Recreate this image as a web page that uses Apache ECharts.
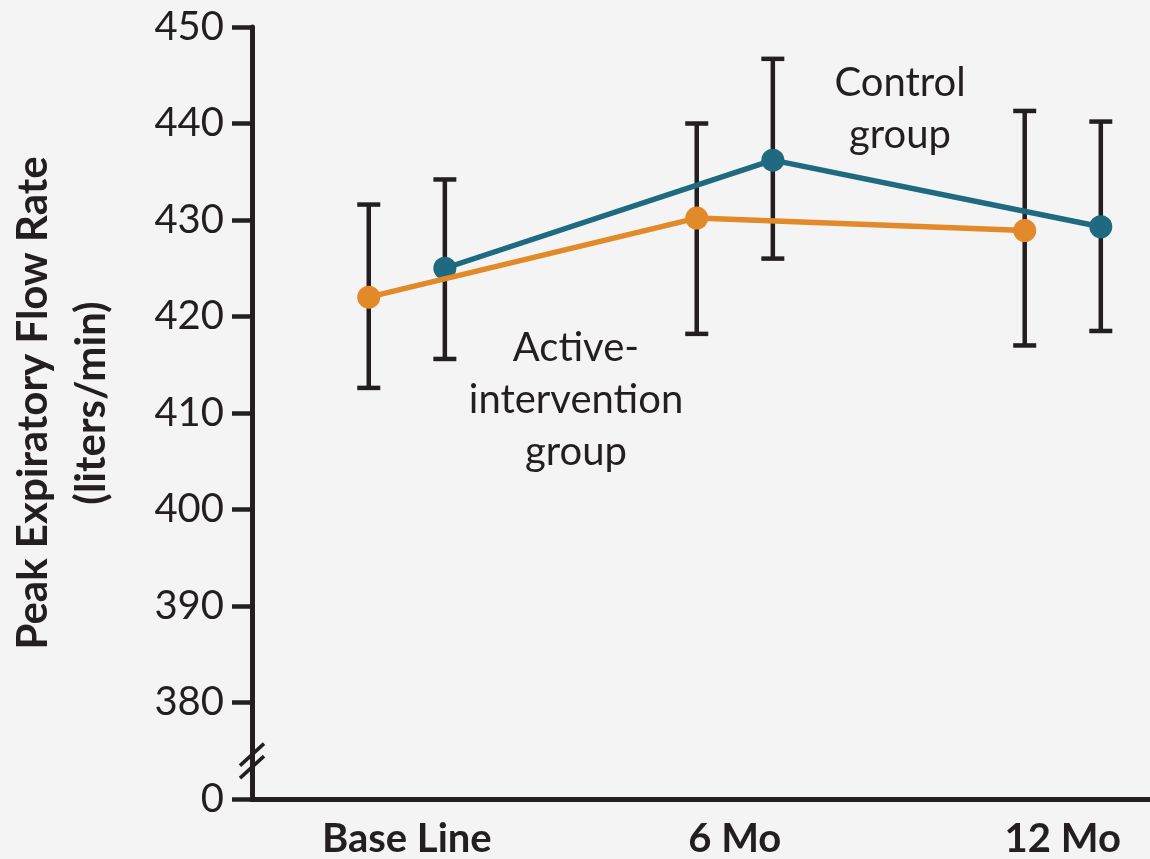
<!DOCTYPE html>
<html>
<head>
<meta charset="utf-8">
<style>
  html, body { margin: 0; padding: 0; background: #f4f4f4; }
  #chart { width: 1150px; height: 859px; }
</style>
<script src="https://cdn.jsdelivr.net/npm/echarts@6/dist/echarts.min.js"></script>
</head>
<body>
<div id="chart"></div>
<script>
// ---- data ----
const categories = ['Base Line', '6 Mo', '12 Mo'];
const activeMean = [422.0, 430.2, 428.9];
const activeLow  = [412.6, 418.2, 417.0];
const activeHigh = [431.6, 440.0, 441.3];
const controlMean = [425.0, 436.2, 429.3];
const controlLow  = [415.6, 426.0, 418.5];
const controlHigh = [434.2, 446.7, 440.2];
const yTickValues = [370, 380, 390, 400, 410, 420, 430, 440, 450];
const yTickLabels = ['0', '380', '390', '400', '410', '420', '430', '440', '450'];
const yAxisTitle = 'Peak Expiratory Flow Rate\n(liters/min)';
const activeLabel = 'Active-\nintervention\ngroup';
const controlLabel = 'Control\ngroup';

// ---- layout / style ----
const INK = '#231f20';
const TEAL = '#1f6a80';
const ORANGE = '#e2892a';
const OFFSET = 0.116;
const FONT = 'Lato';

const activePts = activeMean.map((v, i) => [i - OFFSET, v]);
const controlPts = controlMean.map((v, i) => [i + OFFSET, v]);
const activeErr = activeMean.map((v, i) => [i - OFFSET, activeLow[i], activeHigh[i]]);
const controlErr = controlMean.map((v, i) => [i + OFFSET, controlLow[i], controlHigh[i]]);

function errRender(params, api) {
  const x = api.value(0);
  const lo = api.coord([x, api.value(1)]);
  const hi = api.coord([x, api.value(2)]);
  const hw = 11.5;
  const st = { stroke: INK, lineWidth: 4.5 };
  return {
    type: 'group',
    children: [
      { type: 'line', shape: { x1: lo[0], y1: lo[1], x2: hi[0], y2: hi[1] }, style: st },
      { type: 'line', shape: { x1: lo[0] - hw, y1: lo[1], x2: lo[0] + hw, y2: lo[1] }, style: st },
      { type: 'line', shape: { x1: hi[0] - hw, y1: hi[1], x2: hi[0] + hw, y2: hi[1] }, style: st }
    ]
  };
}

const chart = echarts.init(document.getElementById('chart'));
chart.setOption({
  backgroundColor: '#f4f4f4',
  animation: false,
  grid: { left: 252, right: 0, top: 27, bottom: 60, containLabel: false },
  xAxis: {
    type: 'value',
    min: -0.472,
    max: 2.266,
    axisLine: { show: true, onZero: false, lineStyle: { color: INK, width: 5 } },
    axisTick: { show: false },
    splitLine: { show: false },
    axisLabel: {
      customValues: [0, 1, 2],
      formatter: v => categories[Math.round(v)],
      fontFamily: FONT, fontWeight: 'bold', fontSize: 40, color: INK, margin: 20
    }
  },
  yAxis: {
    type: 'value',
    min: 370,
    max: 450,
    interval: 10,
    axisLine: { show: true, onZero: false, lineStyle: { color: INK, width: 5 } },
    axisTick: { show: true, length: 20, lineStyle: { color: INK, width: 4.5 } },
    splitLine: { show: false },
    axisLabel: {
      formatter: v => yTickLabels[yTickValues.indexOf(v)],
      fontFamily: FONT, fontSize: 40, color: INK, margin: 28
    }
  },
  series: [
    { type: 'custom', renderItem: errRender, data: activeErr, z: 2 },
    { type: 'custom', renderItem: errRender, data: controlErr, z: 2 },
    {
      name: 'Control', type: 'line', data: controlPts, z: 3,
      symbol: 'circle', symbolSize: 23,
      lineStyle: { color: TEAL, width: 5.5 }, itemStyle: { color: TEAL }
    },
    {
      name: 'Active', type: 'line', data: activePts, z: 4,
      symbol: 'circle', symbolSize: 23,
      lineStyle: { color: ORANGE, width: 5.5 }, itemStyle: { color: ORANGE }
    }
  ]
});

// axis break marks, annotations and axis title
const b1 = chart.convertToPixel({ gridIndex: 0 }, [-0.472, 374.6]);
const b2 = chart.convertToPixel({ gridIndex: 0 }, [-0.472, 373.3]);
chart.setOption({
  graphic: [
    { type: 'line', shape: { x1: b1[0] - 12, y1: b1[1] + 11, x2: b1[0] + 12, y2: b1[1] - 11 },
      style: { stroke: INK, lineWidth: 3.5 }, z: 10 },
    { type: 'line', shape: { x1: b2[0] - 12, y1: b2[1] + 11, x2: b2[0] + 12, y2: b2[1] - 11 },
      style: { stroke: INK, lineWidth: 3.5 }, z: 10 },
    { type: 'text', x: 900, y: 57, z: 10,
      style: { text: controlLabel, fill: INK, font: '40px ' + FONT, align: 'center',
               verticalAlign: 'top', lineHeight: 52 } },
    { type: 'text', x: 576, y: 322, z: 10,
      style: { text: activeLabel, fill: INK, font: '40px ' + FONT, align: 'center',
               verticalAlign: 'top', lineHeight: 52 } },
    { type: 'text', x: 62, y: 403, rotation: Math.PI / 2, z: 10,
      style: { text: yAxisTitle, fill: INK, font: 'bold 42px ' + FONT, align: 'center',
               verticalAlign: 'middle', lineHeight: 58 } }
  ]
});
</script>
</body>
</html>
